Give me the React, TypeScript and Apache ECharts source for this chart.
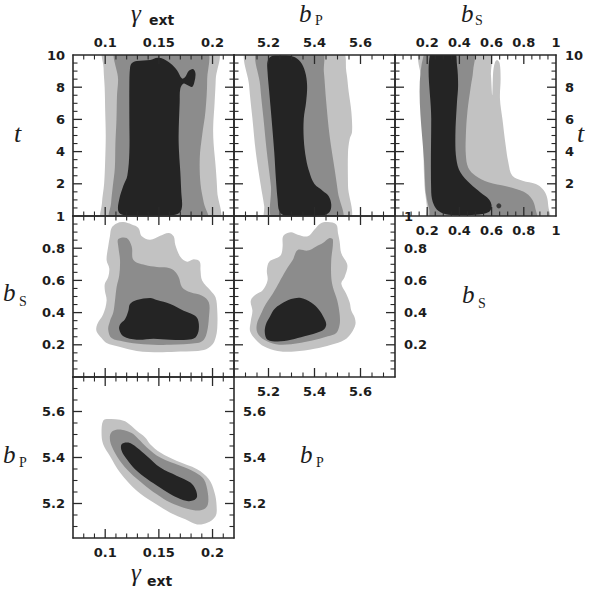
import React, { useEffect, useRef } from "react";
import * as echarts from "echarts";

// ---------- axis ticks & labels ----------
const gammaTicks = [0.1, 0.15, 0.2];
const tTicks = [0, 2, 4, 6, 8, 10];
const bPTicks = [5.2, 5.4, 5.6];
const bSTicks = [0, 0.2, 0.4, 0.6, 0.8, 1];
const gammaTickLabels = [0.1, 0.15, 0.2];
const tTickLabels = [2, 4, 6, 8, 10];
const bPTickLabels = [5.2, 5.4, 5.6];
const bSTickLabels = [0.2, 0.4, 0.6, 0.8, 1];

// ---------- contour polygons (data coordinates) ----------
// panel: gamma_ext (x) vs t (y)
const gammaT_outer = [[0.0975, -0.3], [0.097, 0.8], [0.099, 2.0], [0.1, 3.5], [0.1005, 5.0], [0.1, 6.5], [0.0995, 8.0], [0.0985, 9.2], [0.099, 10.3], [0.2037, 10.3], [0.203, 8.5], [0.2019, 7.0], [0.2006, 5.5], [0.201, 4.5], [0.203, 3.0], [0.2044, 1.5], [0.205, -0.3]];
const gammaT_middle = [[0.105, -0.3], [0.1055, 0.8], [0.107, 1.8], [0.109, 3.0], [0.1095, 4.5], [0.1105, 6.0], [0.111, 7.5], [0.112, 8.5], [0.1106, 10.3], [0.1934, 10.3], [0.195, 8.5], [0.1934, 6.5], [0.1903, 5.0], [0.1881, 3.6], [0.1888, 2.0], [0.1919, 0.8], [0.195, -0.3]];
const gammaT_inner = [[0.1122, 0.31], [0.1131, 1.04], [0.1169, 1.875], [0.1206, 2.5], [0.1225, 3.96], [0.1225, 6.04], [0.1225, 8.125], [0.1231, 9.17], [0.1247, 9.48], [0.1294, 9.625], [0.1419, 9.69], [0.1488, 9.83], [0.1544, 9.75], [0.1606, 9.48], [0.1669, 9.06], [0.1716, 8.54], [0.1747, 8.65], [0.1778, 9.0], [0.1819, 9.125], [0.1841, 8.85], [0.1831, 8.33], [0.1809, 8.02], [0.1769, 8.125], [0.1731, 8.23], [0.17, 7.92], [0.1694, 7.08], [0.1684, 5.0], [0.1688, 3.96], [0.17, 2.71], [0.1709, 1.46], [0.1716, 0.625], [0.1694, 0.21], [0.1638, 0.06], [0.1169, 0.06]];

// panel: b_P (x) vs t (y)
const bPT_outer = [[5.1083, 10.3], [5.5166, 10.3], [5.5384, 8.96], [5.5486, 7.71], [5.5603, 6.46], [5.5632, 5.21], [5.553, 4.79], [5.5457, 3.96], [5.5457, 1.875], [5.548, -0.3], [5.1885, -0.3], [5.1812, 0.625], [5.1666, 1.875], [5.1448, 3.96], [5.1302, 6.04], [5.1156, 8.125]];
const bPT_middle = [[5.155, 10.3], [5.4291, 10.3], [5.4407, 8.96], [5.451, 7.08], [5.4655, 5.0], [5.4874, 2.92], [5.502, 1.46], [5.5166, -0.3], [5.225, -0.3], [5.2104, 1.875], [5.1929, 3.96], [5.1783, 6.04], [5.1637, 8.125]];
const bPT_inner = [[5.1958, 9.58], [5.2104, 9.9], [5.2468, 9.96], [5.3052, 9.9], [5.3387, 9.58], [5.3591, 8.96], [5.3678, 8.125], [5.3635, 7.08], [5.3533, 6.04], [5.3533, 4.79], [5.3635, 3.54], [5.378, 2.71], [5.3999, 1.98], [5.4364, 1.56], [5.4612, 1.25], [5.4728, 0.73], [5.4655, 0.25], [5.4364, 0.04], [5.2687, 0.04], [5.2468, 0.31], [5.2395, 1.04], [5.2323, 2.29], [5.225, 3.96], [5.2133, 6.04], [5.2031, 7.71], [5.1958, 8.96]];

// panel: b_S (x) vs t (y)
const bST_outer = [[0.1625, 10.3], [0.583, 10.3], [0.596, 8.75], [0.604, 7.5], [0.61, 8.96], [0.621, 9.54], [0.635, 9.69], [0.65, 9.48], [0.656, 8.54], [0.652, 7.29], [0.667, 6.04], [0.6875, 4.375], [0.704, 3.33], [0.729, 2.5], [0.792, 2.19], [0.875, 1.98], [0.917, 1.67], [0.942, 1.25], [0.952, 0.625], [0.954, -0.3], [0.2083, -0.3], [0.1979, 0.625], [0.1833, 1.875], [0.1771, 3.96], [0.1708, 8.125]];
const bST_middle = [[0.1875, 10.3], [0.483, 10.3], [0.485, 9.0], [0.47, 8.0], [0.45, 6.5], [0.44, 5.0], [0.44, 3.8], [0.455, 3.0], [0.5, 2.5], [0.58, 2.1], [0.69, 1.85], [0.8, 1.5], [0.85, 1.05], [0.871, 0.5], [0.875, -0.3], [0.229, -0.3], [0.2125, 0.42], [0.198, 1.04], [0.1875, 1.875]];
const bST_inner = [[0.225, 10.3], [0.365, 10.3], [0.385, 9.375], [0.392, 8.125], [0.385, 7.08], [0.375, 5.0], [0.381, 3.54], [0.406, 2.71], [0.469, 1.98], [0.531, 1.46], [0.583, 1.04], [0.6, 0.625], [0.583, 0.25], [0.5, 0.083], [0.333, 0.083], [0.271, 0.31], [0.24, 0.73], [0.225, 1.46], [0.225, 6.04]];
const bST_spot = [[0.645, 0.63]];

// panel: gamma_ext (x) vs b_S (y)
const gammaBS_outer = [[0.1059, 0.926], [0.1106, 0.954], [0.1169, 0.962], [0.1247, 0.947], [0.1309, 0.926], [0.1341, 0.874], [0.1419, 0.853], [0.1513, 0.878], [0.1591, 0.895], [0.1638, 0.874], [0.1653, 0.821], [0.17, 0.747], [0.1763, 0.716], [0.1825, 0.731], [0.1881, 0.716], [0.1888, 0.663], [0.1903, 0.6], [0.1981, 0.537], [0.2028, 0.495], [0.2044, 0.411], [0.2044, 0.305], [0.2028, 0.242], [0.1997, 0.2], [0.1919, 0.168], [0.17, 0.158], [0.1513, 0.154], [0.1294, 0.162], [0.1122, 0.189], [0.1013, 0.211], [0.0966, 0.242], [0.0919, 0.284], [0.0925, 0.326], [0.0981, 0.389], [0.1013, 0.474], [0.0997, 0.537], [0.0997, 0.579], [0.1028, 0.621], [0.1038, 0.674], [0.1013, 0.726], [0.1028, 0.811], [0.1044, 0.874]];
const gammaBS_middle = [[0.1122, 0.857], [0.12, 0.863], [0.1247, 0.811], [0.1263, 0.726], [0.1372, 0.695], [0.1481, 0.684], [0.1575, 0.68], [0.1638, 0.663], [0.1684, 0.621], [0.1716, 0.558], [0.1794, 0.526], [0.1903, 0.505], [0.1966, 0.463], [0.1966, 0.368], [0.195, 0.284], [0.1919, 0.232], [0.1856, 0.211], [0.1606, 0.2], [0.1356, 0.204], [0.1169, 0.221], [0.1059, 0.242], [0.1028, 0.295], [0.1044, 0.347], [0.1075, 0.4], [0.1091, 0.474], [0.1106, 0.558], [0.1131, 0.632], [0.1138, 0.726], [0.1122, 0.811]];
const gammaBS_inner = [[0.1231, 0.453], [0.1294, 0.478], [0.1419, 0.491], [0.1481, 0.478], [0.1606, 0.453], [0.1731, 0.411], [0.1825, 0.385], [0.1863, 0.358], [0.1872, 0.295], [0.1841, 0.246], [0.1763, 0.232], [0.1606, 0.232], [0.145, 0.238], [0.1294, 0.232], [0.1169, 0.253], [0.1131, 0.295], [0.1138, 0.326], [0.1184, 0.358], [0.1216, 0.411]];

// panel: b_P (x) vs b_S (y)
const bPBS_outer = [[5.2687, 0.884], [5.2979, 0.899], [5.327, 0.884], [5.3708, 0.874], [5.3999, 0.916], [5.4262, 0.954], [5.4582, 0.962], [5.4947, 0.947], [5.502, 0.895], [5.5093, 0.842], [5.5166, 0.768], [5.5428, 0.695], [5.5311, 0.621], [5.5166, 0.579], [5.5384, 0.516], [5.553, 0.463], [5.5603, 0.411], [5.5749, 0.368], [5.5778, 0.326], [5.5603, 0.274], [5.5311, 0.232], [5.4728, 0.2], [5.3999, 0.175], [5.3124, 0.158], [5.2395, 0.162], [5.1812, 0.189], [5.1448, 0.232], [5.12, 0.284], [5.1229, 0.347], [5.1302, 0.411], [5.1229, 0.474], [5.1448, 0.512], [5.1739, 0.537], [5.1958, 0.6], [5.1929, 0.663], [5.2031, 0.716], [5.2323, 0.737], [5.2541, 0.758], [5.2614, 0.811], [5.2614, 0.863]];
const bPBS_middle = [[5.327, 0.789], [5.3708, 0.785], [5.4072, 0.811], [5.4364, 0.832], [5.4655, 0.863], [5.4801, 0.853], [5.4728, 0.726], [5.4728, 0.621], [5.4801, 0.558], [5.4991, 0.474], [5.5093, 0.389], [5.5093, 0.326], [5.4947, 0.274], [5.4582, 0.253], [5.3853, 0.225], [5.2979, 0.204], [5.2323, 0.204], [5.1812, 0.232], [5.1521, 0.274], [5.1491, 0.326], [5.1666, 0.389], [5.1885, 0.453], [5.2177, 0.516], [5.2468, 0.589], [5.276, 0.663], [5.3052, 0.726]];
const bPBS_inner = [[5.2541, 0.453], [5.2979, 0.484], [5.3416, 0.491], [5.3853, 0.463], [5.4174, 0.421], [5.4407, 0.368], [5.451, 0.326], [5.4407, 0.295], [5.4072, 0.274], [5.3562, 0.253], [5.2979, 0.232], [5.2395, 0.221], [5.1958, 0.232], [5.1841, 0.274], [5.1885, 0.326], [5.2075, 0.379], [5.225, 0.421]];

// panel: gamma_ext (x) vs b_P (y)
const gammaBP_outer = [[0.0981, 5.56], [0.1028, 5.567], [0.1138, 5.564], [0.12, 5.553], [0.1294, 5.516], [0.1372, 5.487], [0.1419, 5.458], [0.1513, 5.422], [0.1669, 5.385], [0.1856, 5.349], [0.1966, 5.305], [0.2019, 5.247], [0.2038, 5.189], [0.2028, 5.145], [0.195, 5.116], [0.1856, 5.109], [0.1747, 5.131], [0.1606, 5.16], [0.145, 5.204], [0.1294, 5.255], [0.1138, 5.335], [0.1044, 5.407], [0.0981, 5.458], [0.0966, 5.509]];
const gammaBP_middle = [[0.1075, 5.516], [0.1153, 5.521], [0.1247, 5.506], [0.1309, 5.48], [0.1388, 5.444], [0.1513, 5.4], [0.17, 5.364], [0.1841, 5.335], [0.1919, 5.305], [0.1956, 5.247], [0.1956, 5.196], [0.1919, 5.175], [0.1841, 5.17], [0.1731, 5.182], [0.1606, 5.204], [0.1481, 5.24], [0.1356, 5.284], [0.1231, 5.335], [0.1138, 5.385], [0.1059, 5.451], [0.1044, 5.495]];
const gammaBP_inner = [[0.1153, 5.458], [0.1216, 5.465], [0.1294, 5.444], [0.1388, 5.407], [0.1513, 5.356], [0.1669, 5.32], [0.1794, 5.291], [0.1841, 5.262], [0.1856, 5.23], [0.1831, 5.215], [0.1763, 5.211], [0.1638, 5.233], [0.1513, 5.269], [0.1388, 5.308], [0.1278, 5.349], [0.12, 5.393], [0.1153, 5.429]];

// ---------- styling ----------
const levelColors = ["#c2c2c2", "#8c8c8c", "#242424"];
const frameColor = "#2a2a2a";
const textColor = "#1c1c1c";

type Dim = { min: number; max: number; minor: number; major: number[]; labels: number[] };
const dims: Record<string, Dim> = {
  gamma: { min: 0.07, max: 0.22, minor: 0.01, major: gammaTicks, labels: gammaTickLabels },
  t: { min: 0, max: 10, minor: 0.5, major: tTicks, labels: tTickLabels },
  bP: { min: 5.05, max: 5.75, minor: 0.05, major: bPTicks, labels: bPTickLabels },
  bS: { min: 0, max: 1, minor: 0.05, major: bSTicks, labels: bSTickLabels },
};

type Panel = {
  x: string; y: string; col: number; row: number;
  show: { top?: boolean; bottom?: boolean; left?: boolean; right?: boolean };
  polys: number[][][];
  spot?: number[][];
};

const panels: Panel[] = [
  { x: "gamma", y: "t", col: 0, row: 0, show: { top: true, left: true }, polys: [gammaT_outer, gammaT_middle, gammaT_inner] },
  { x: "bP", y: "t", col: 1, row: 0, show: { top: true }, polys: [bPT_outer, bPT_middle, bPT_inner] },
  { x: "bS", y: "t", col: 2, row: 0, show: { top: true, right: true, bottom: true }, polys: [bST_outer, bST_middle, bST_inner], spot: bST_spot },
  { x: "gamma", y: "bS", col: 0, row: 1, show: { left: true }, polys: [gammaBS_outer, gammaBS_middle, gammaBS_inner] },
  { x: "bP", y: "bS", col: 1, row: 1, show: { right: true, bottom: true }, polys: [bPBS_outer, bPBS_middle, bPBS_inner] },
  { x: "gamma", y: "bP", col: 0, row: 2, show: { left: true, right: true, bottom: true }, polys: [gammaBP_outer, gammaBP_middle, gammaBP_inner] },
];

const PANEL = 161;
const LEFT0 = 73;
const TOP0 = 55;
const MAJOR_LEN = 9;
const MINOR_LEN = 4.5;

const fmt = (v: number) => String(+Number(v).toFixed(3));
const labelMargin: Record<string, number> = { top: 6, bottom: 8, left: 8, right: 9 };

function makeAxis(dim: Dim, gridIndex: number, position: string, showLabel: boolean) {
  return {
    type: "value",
    gridIndex,
    position,
    min: dim.min,
    max: dim.max,
    z: 10,
    axisLine: { show: true, onZero: false, lineStyle: { color: frameColor, width: 1.6 } },
    splitLine: { show: false },
    axisTick: { show: false },
    minorTick: { show: false },
    axisLabel: showLabel
      ? {
          show: true,
          customValues: dim.labels,
          formatter: (v: number) => fmt(v),
          margin: labelMargin[position],
          fontFamily: "DejaVu Sans",
          fontWeight: "bold",
          fontSize: 13,
          color: textColor,
          showMinLabel: true,
          showMaxLabel: true,
          hideOverlap: false,
        }
      : { show: false },
  };
}

// tick values: minor steps from the axis range, majors from the tick arrays
function tickList(dim: Dim) {
  const out: { v: number; major: boolean }[] = [];
  const n = Math.round((dim.max - dim.min) / dim.minor);
  for (let k = 1; k < n; k++) {
    const v = +(dim.min + k * dim.minor).toFixed(6);
    const isMajor = dim.major.some((m) => Math.abs(m - v) < 1e-6);
    out.push({ v, major: isMajor });
  }
  return out;
}

type Label = { text: string; x: number; y: number; size: number; family: string; italic?: boolean; bold?: boolean };
const axisTitles: Label[] = [
  { text: "γ", x: 131, y: 13, size: 25, family: "Liberation Serif", italic: true },
  { text: "ext", x: 149, y: 20, size: 14, family: "DejaVu Sans", bold: true },
  { text: "b", x: 299, y: 13, size: 25, family: "Liberation Serif", italic: true },
  { text: "P", x: 315, y: 20, size: 14, family: "Liberation Serif" },
  { text: "b", x: 461, y: 13, size: 25, family: "Liberation Serif", italic: true },
  { text: "S", x: 475, y: 20.5, size: 14, family: "Liberation Serif" },
  { text: "t", x: 14, y: 133, size: 26, family: "Liberation Serif", italic: true },
  { text: "t", x: 577, y: 133, size: 26, family: "Liberation Serif", italic: true },
  { text: "b", x: 3, y: 292, size: 25, family: "Liberation Serif", italic: true },
  { text: "S", x: 19, y: 301, size: 14, family: "Liberation Serif" },
  { text: "b", x: 462, y: 294, size: 25, family: "Liberation Serif", italic: true },
  { text: "S", x: 478, y: 303, size: 14, family: "Liberation Serif" },
  { text: "b", x: 3, y: 454, size: 25, family: "Liberation Serif", italic: true },
  { text: "P", x: 19, y: 462, size: 14, family: "Liberation Serif" },
  { text: "b", x: 300, y: 454, size: 25, family: "Liberation Serif", italic: true },
  { text: "P", x: 316, y: 462, size: 14, family: "Liberation Serif" },
  { text: "γ", x: 131, y: 572, size: 25, family: "Liberation Serif", italic: true },
  { text: "ext", x: 147, y: 581, size: 14, family: "DejaVu Sans", bold: true },
];

function buildOption() {
  const grids: any[] = [];
  const xAxes: any[] = [];
  const yAxes: any[] = [];
  const series: any[] = [];

  panels.forEach((p, i) => {
    grids.push({ left: LEFT0 + p.col * PANEL, top: TOP0 + p.row * PANEL, width: PANEL, height: PANEL, containLabel: false });
    const xd = dims[p.x];
    const yd = dims[p.y];
    const xIdx = xAxes.length;
    xAxes.push(makeAxis(xd, i, "bottom", !!p.show.bottom));
    xAxes.push(makeAxis(xd, i, "top", !!p.show.top));
    const yIdx = yAxes.length;
    yAxes.push(makeAxis(yd, i, "left", !!p.show.left));
    yAxes.push(makeAxis(yd, i, "right", !!p.show.right));

    const polys = p.polys;
    series.push({
      type: "custom",
      coordinateSystem: "cartesian2d",
      xAxisIndex: xIdx,
      yAxisIndex: yIdx,
      clip: true,
      silent: true,
      z: 2,
      data: polys.map((poly) => poly[0]),
      renderItem: (params: any, api: any) => {
        const poly = polys[params.dataIndex];
        const points = poly.map((pt) => api.coord(pt));
        return {
          type: "polygon",
          shape: { points, smooth: 0.35 },
          style: { fill: levelColors[params.dataIndex], stroke: "none", lineWidth: 0 },
        };
      },
    });
    if (p.spot) {
      series.push({
        type: "scatter",
        xAxisIndex: xIdx,
        yAxisIndex: yIdx,
        silent: true,
        z: 3,
        symbol: "circle",
        symbolSize: 5,
        itemStyle: { color: levelColors[2] },
        data: p.spot,
      });
    }

    // inward tick marks on all four sides, placed through the axes' scales
    const ticks = [
      ...tickList(xd).map((t) => ({ dir: "x", v: t.v, major: t.major })),
      ...tickList(yd).map((t) => ({ dir: "y", v: t.v, major: t.major })),
    ];
    series.push({
      type: "custom",
      coordinateSystem: "cartesian2d",
      xAxisIndex: xIdx,
      yAxisIndex: yIdx,
      clip: false,
      silent: true,
      z: 5,
      data: ticks.map(() => [xd.min, yd.min]),
      renderItem: (params: any, api: any) => {
        const tk = ticks[params.dataIndex];
        const len = tk.major ? MAJOR_LEN : MINOR_LEN;
        const style = { stroke: frameColor, lineWidth: tk.major ? 1.3 : 1.1 };
        if (tk.dir === "x") {
          const b = api.coord([tk.v, yd.min]);
          const t = api.coord([tk.v, yd.max]);
          return {
            type: "group",
            children: [
              { type: "line", shape: { x1: b[0], y1: b[1], x2: b[0], y2: b[1] - len }, style },
              { type: "line", shape: { x1: t[0], y1: t[1], x2: t[0], y2: t[1] + len }, style },
            ],
          };
        }
        const l = api.coord([xd.min, tk.v]);
        const r = api.coord([xd.max, tk.v]);
        return {
          type: "group",
          children: [
            { type: "line", shape: { x1: l[0], y1: l[1], x2: l[0] + len, y2: l[1] }, style },
            { type: "line", shape: { x1: r[0], y1: r[1], x2: r[0] - len, y2: r[1] }, style },
          ],
        };
      },
    });
  });

  const graphic = axisTitles.map((l) => ({
    type: "text",
    silent: true,
    style: {
      text: l.text,
      x: l.x,
      y: l.y,
      fill: textColor,
      font: `${l.italic ? "italic " : ""}${l.bold ? "bold " : ""}${l.size}px "${l.family}"`,
      fontSize: l.size,
      fontFamily: l.family,
      fontStyle: l.italic ? "italic" : "normal",
      fontWeight: l.bold ? "bold" : "normal",
      textAlign: "left",
      align: "left",
      textVerticalAlign: "middle",
      verticalAlign: "middle",
    },
  }));

  return {
    animation: false,
    backgroundColor: "#ffffff",
    grid: grids,
    xAxis: xAxes,
    yAxis: yAxes,
    series,
    graphic,
  };
}

export default function App() {
  const ref = useRef<HTMLDivElement>(null);
  useEffect(() => {
    if (!ref.current) return;
    const chart = echarts.init(ref.current, undefined, { renderer: "svg" });
    chart.setOption(buildOption() as any);
    return () => chart.dispose();
  }, []);
  return (
    <div
      ref={ref}
      style={{ position: "fixed", left: 0, top: 0, width: 600, height: 590, background: "#fff" }}
    />
  );
}
